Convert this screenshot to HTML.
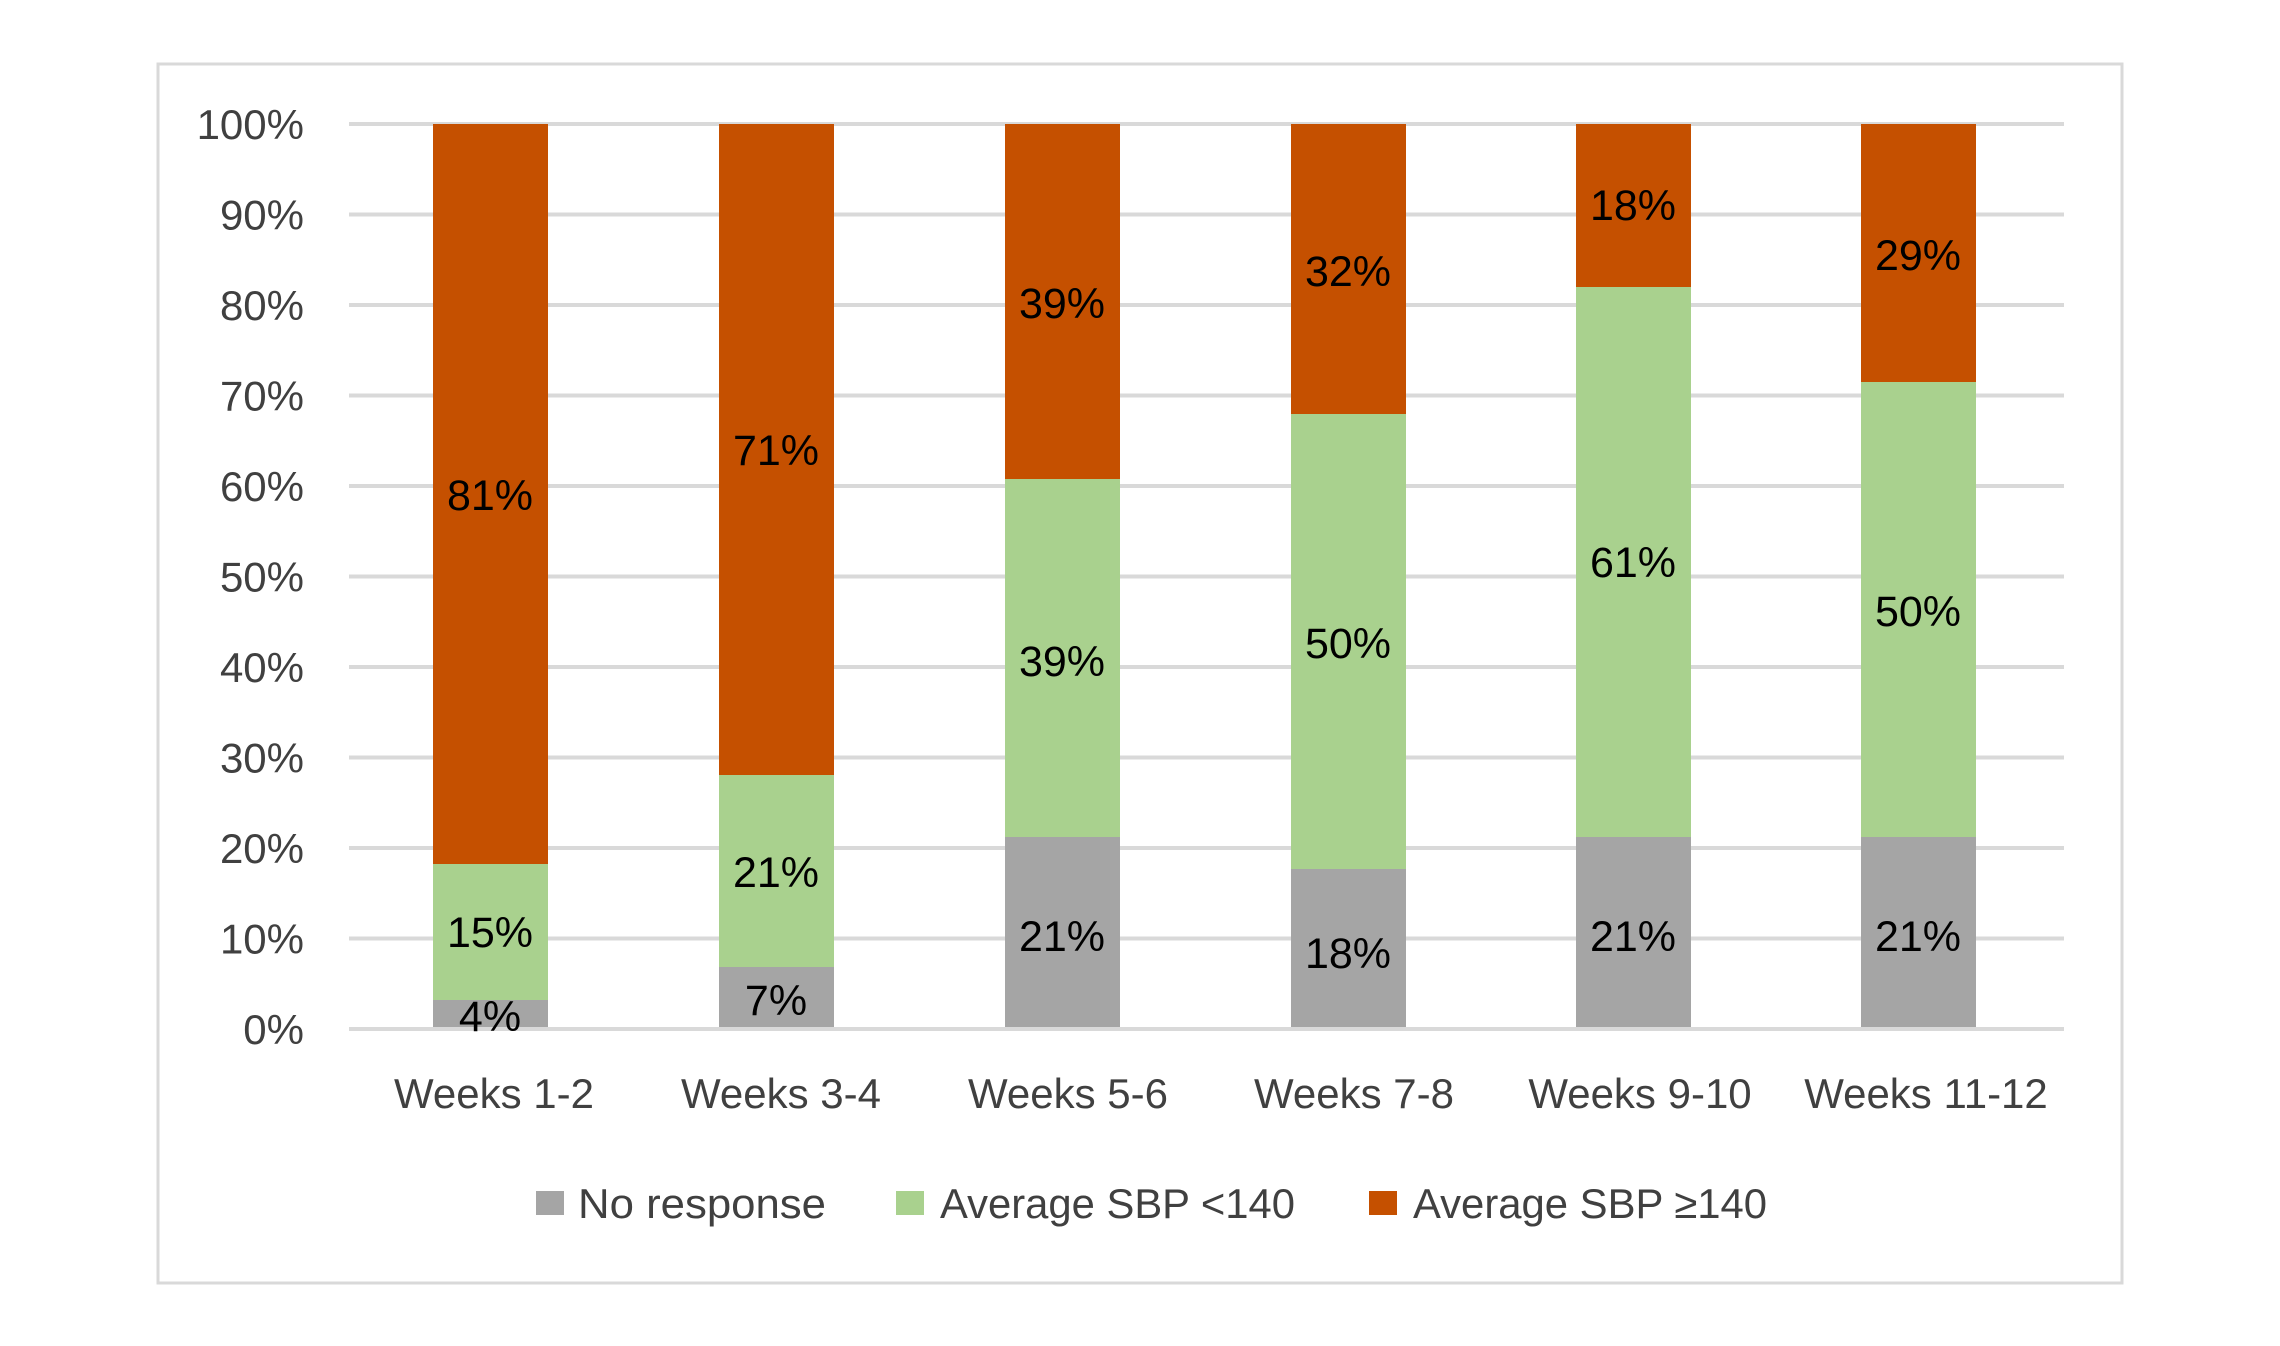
<!DOCTYPE html>
<html><head><meta charset="utf-8"><style>
html,body{margin:0;padding:0;background:#fff;}
svg{display:block;}
text{font-family:"Liberation Sans",sans-serif;}
</style></head><body>
<svg width="2280" height="1346" viewBox="0 0 2280 1346" xmlns="http://www.w3.org/2000/svg">
<rect x="0" y="0" width="2280" height="1346" fill="#fff"/>
<rect x="158" y="64" width="1964" height="1219" fill="#fff" stroke="#d9d9d9" stroke-width="3"/>
<g stroke="#d9d9d9" stroke-width="4">
<line x1="349" x2="2064" y1="124" y2="124"/>
<line x1="349" x2="2064" y1="214.5" y2="214.5"/>
<line x1="349" x2="2064" y1="305" y2="305"/>
<line x1="349" x2="2064" y1="395.5" y2="395.5"/>
<line x1="349" x2="2064" y1="486" y2="486"/>
<line x1="349" x2="2064" y1="576.5" y2="576.5"/>
<line x1="349" x2="2064" y1="667" y2="667"/>
<line x1="349" x2="2064" y1="757.5" y2="757.5"/>
<line x1="349" x2="2064" y1="848" y2="848"/>
<line x1="349" x2="2064" y1="938.5" y2="938.5"/>
<line x1="349" x2="2064" y1="1029" y2="1029"/>
</g>
<g font-size="42" fill="#404040" text-anchor="end">
<text x="304" y="139">100%</text>
<text x="304" y="229.5">90%</text>
<text x="304" y="320">80%</text>
<text x="304" y="410.5">70%</text>
<text x="304" y="501">60%</text>
<text x="304" y="591.5">50%</text>
<text x="304" y="682">40%</text>
<text x="304" y="772.5">30%</text>
<text x="304" y="863">20%</text>
<text x="304" y="953.5">10%</text>
<text x="304" y="1044">0%</text>
</g>
<g>
<rect x="433" y="124" width="115" height="740" fill="#c55000"/>
<rect x="433" y="864" width="115" height="136" fill="#a9d18e"/>
<rect x="433" y="1000" width="115" height="27" fill="#a5a5a5"/>

<rect x="719" y="124" width="115" height="651" fill="#c55000"/>
<rect x="719" y="775" width="115" height="192" fill="#a9d18e"/>
<rect x="719" y="967" width="115" height="60" fill="#a5a5a5"/>

<rect x="1005" y="124" width="115" height="355" fill="#c55000"/>
<rect x="1005" y="479" width="115" height="358" fill="#a9d18e"/>
<rect x="1005" y="837" width="115" height="190" fill="#a5a5a5"/>

<rect x="1291" y="124" width="115" height="290" fill="#c55000"/>
<rect x="1291" y="414" width="115" height="455" fill="#a9d18e"/>
<rect x="1291" y="869" width="115" height="158" fill="#a5a5a5"/>

<rect x="1576" y="124" width="115" height="163" fill="#c55000"/>
<rect x="1576" y="287" width="115" height="550" fill="#a9d18e"/>
<rect x="1576" y="837" width="115" height="190" fill="#a5a5a5"/>

<rect x="1861" y="124" width="115" height="258" fill="#c55000"/>
<rect x="1861" y="382" width="115" height="455" fill="#a9d18e"/>
<rect x="1861" y="837" width="115" height="190" fill="#a5a5a5"/>
</g>
<g font-size="43" fill="#000" text-anchor="middle">
<text x="490" y="510">81%</text>
<text x="490" y="947">15%</text>
<text x="490" y="1031">4%</text>
<text x="776" y="465">71%</text>
<text x="776" y="887">21%</text>
<text x="776" y="1015">7%</text>
<text x="1062" y="318">39%</text>
<text x="1062" y="676">39%</text>
<text x="1062" y="951">21%</text>
<text x="1348" y="286">32%</text>
<text x="1348" y="658">50%</text>
<text x="1348" y="968">18%</text>
<text x="1633" y="220">18%</text>
<text x="1633" y="577">61%</text>
<text x="1633" y="951">21%</text>
<text x="1918" y="270">29%</text>
<text x="1918" y="626">50%</text>
<text x="1918" y="951">21%</text>
</g>
<g font-size="42" fill="#404040" text-anchor="middle">
<text x="494" y="1108">Weeks 1-2</text>
<text x="781" y="1108">Weeks 3-4</text>
<text x="1068" y="1108">Weeks 5-6</text>
<text x="1354" y="1108">Weeks 7-8</text>
<text x="1640" y="1108">Weeks 9-10</text>
<text x="1926" y="1108">Weeks 11-12</text>
</g>
<rect x="536" y="1191" width="28" height="24" fill="#a5a5a5"/>
<rect x="896" y="1191" width="28" height="24" fill="#a9d18e"/>
<rect x="1369" y="1191" width="28" height="24" fill="#c55000"/>
<g font-size="42" fill="#404040">
<text x="578" y="1218" textLength="248" lengthAdjust="spacingAndGlyphs">No response</text>
<text x="940" y="1218" textLength="355" lengthAdjust="spacingAndGlyphs">Average SBP &lt;140</text>
<text x="1413" y="1218" textLength="354" lengthAdjust="spacingAndGlyphs">Average SBP ≥140</text>
</g>
</svg>
</body></html>
